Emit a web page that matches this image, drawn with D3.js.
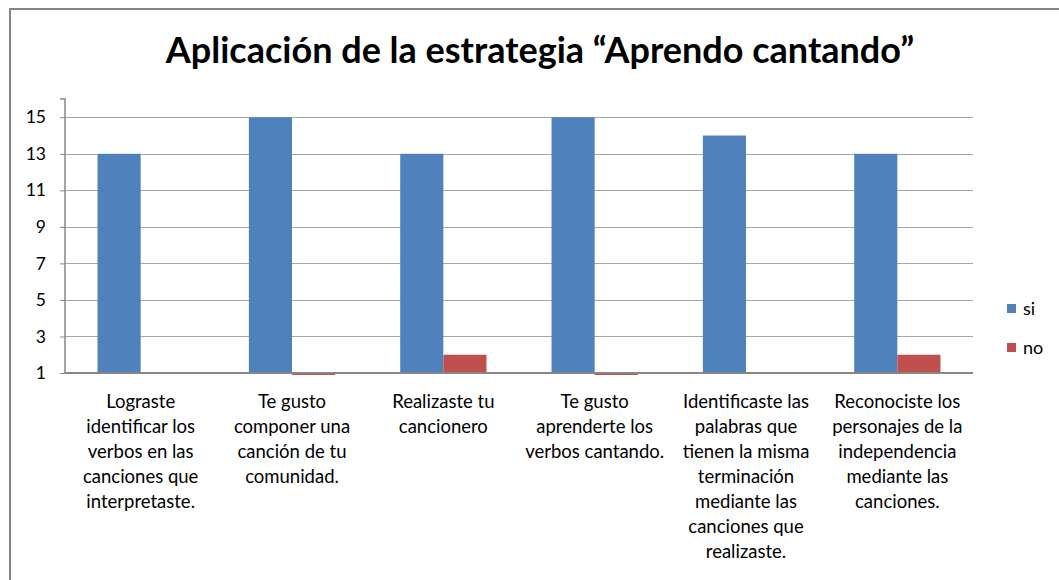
<!DOCTYPE html>
<html>
<head>
<meta charset="utf-8">
<script src="https://cdn.jsdelivr.net/npm/d3@7"></script>
<style>
  html, body { margin: 0; padding: 0; background: #fff; }
  svg { display: block; }
  text { font-family: Lato, "Open Sans", sans-serif; fill: #000; }
</style>
</head>
<body>
<svg id="chart" width="1059" height="580"></svg>
<script>
const categories = [
  ["Lograste", "identificar los", "verbos en las", "canciones que", "interpretaste."],
  ["Te gusto", "componer una", "canción de tu", "comunidad."],
  ["Realizaste tu", "cancionero"],
  ["Te gusto", "aprenderte los", "verbos cantando."],
  ["Identificaste las", "palabras que", "tienen la misma", "terminación", "mediante las", "canciones que", "realizaste."],
  ["Reconociste los", "personajes de la", "independencia", "mediante las", "canciones."]
];
const seriesNames = ["si", "no"];
const siValues = [13, 15, 13, 15, 14, 13];
const noValues = [null, 0, 2, 0, null, 2];
const yTicks = [1, 3, 5, 7, 9, 11, 13, 15];
const titleText = "Aplicación de la estrategia \u201cAprendo cantando\u201d";

const colors = ["#4F81BD", "#C0504D"];
const svg = d3.select("#chart");

// outer frame
svg.append("rect").attr("x", 10).attr("y", 9).attr("width", 1100).attr("height", 640)
  .attr("fill", "none").attr("stroke", "#868686").attr("stroke-width", 2);

const plot = {left: 65, right: 973, top: 99, bottom: 373};
const ids = d3.range(categories.length);

const x = d3.scaleBand().domain(ids).range([plot.left, plot.right])
  .paddingInner(0.43).paddingOuter(0.215);
const x1 = d3.scaleBand().domain(seriesNames).range([0, x.bandwidth()]).padding(0);
const y = d3.scaleLinear().domain([1, 16]).range([plot.bottom, plot.top]);

// gridlines
svg.append("g").selectAll("line").data(yTicks.slice(1)).join("line")
  .attr("x1", plot.left).attr("x2", plot.right)
  .attr("y1", d => Math.round(y(d)) + 0.5).attr("y2", d => Math.round(y(d)) + 0.5)
  .attr("stroke", "#a6a6a6").attr("stroke-width", 1.2);

// clip for bars
svg.append("clipPath").attr("id", "clip").append("rect")
  .attr("x", plot.left).attr("y", plot.top)
  .attr("width", plot.right - plot.left).attr("height", plot.bottom - plot.top + 2);

const data = [siValues, noValues];
const barsG = svg.append("g").attr("clip-path", "url(#clip)");
seriesNames.forEach((s, si) => {
  barsG.append("g").selectAll("rect")
    .data(ids.filter(i => data[si][i] !== null))
    .join("rect")
    .attr("x", i => x(i) + x1(s))
    .attr("width", x1.bandwidth())
    .attr("y", i => Math.min(y(data[si][i]), y(1)))
    .attr("height", i => Math.abs(y(1) - y(data[si][i])))
    .attr("fill", colors[si]);
});

// y axis
const yAxis = d3.axisLeft(y).tickValues(yTicks).tickSize(5).tickPadding(14);
const yg = svg.append("g").attr("transform", `translate(${plot.left},0)`).call(yAxis);
yg.select(".domain").attr("stroke", "#868686").attr("stroke-width", 1.5)
  .attr("d", `M-5,${plot.top}H0V${plot.bottom}`);
yg.selectAll(".tick line").attr("stroke", "#868686");
yg.selectAll(".tick text").attr("font-size", 17.5).style("font-family", "Lato, sans-serif").attr("fill", "#000");

// x axis line
svg.append("line").attr("x1", plot.left).attr("x2", plot.right)
  .attr("y1", plot.bottom).attr("y2", plot.bottom)
  .attr("stroke", "#868686").attr("stroke-width", 2);

// category labels
const lab = svg.append("g").selectAll("text").data(ids).join("text")
  .attr("x", i => x(i) + x.bandwidth() / 2)
  .attr("y", 408)
  .attr("text-anchor", "middle")
  .attr("font-size", 18.5);
lab.selectAll("tspan").data(i => categories[i]).join("tspan")
  .attr("x", function() { return d3.select(this.parentNode).attr("x"); })
  .attr("dy", (d, j) => j === 0 ? 0 : 25)
  .text(d => d);

// title
svg.append("text").attr("x", 540).attr("y", 63).attr("text-anchor", "middle")
  .attr("font-size", 36).attr("font-weight", "bold").text(titleText);

// legend
const leg = svg.append("g").selectAll("g").data(seriesNames).join("g")
  .attr("transform", (d, i) => `translate(1007,${304 + i * 39})`);
leg.append("rect").attr("width", 9).attr("height", 9).attr("fill", (d, i) => colors[i]);
leg.append("text").attr("x", 16).attr("y", 11).attr("font-size", 18).text(d => d);
</script>
</body>
</html>
